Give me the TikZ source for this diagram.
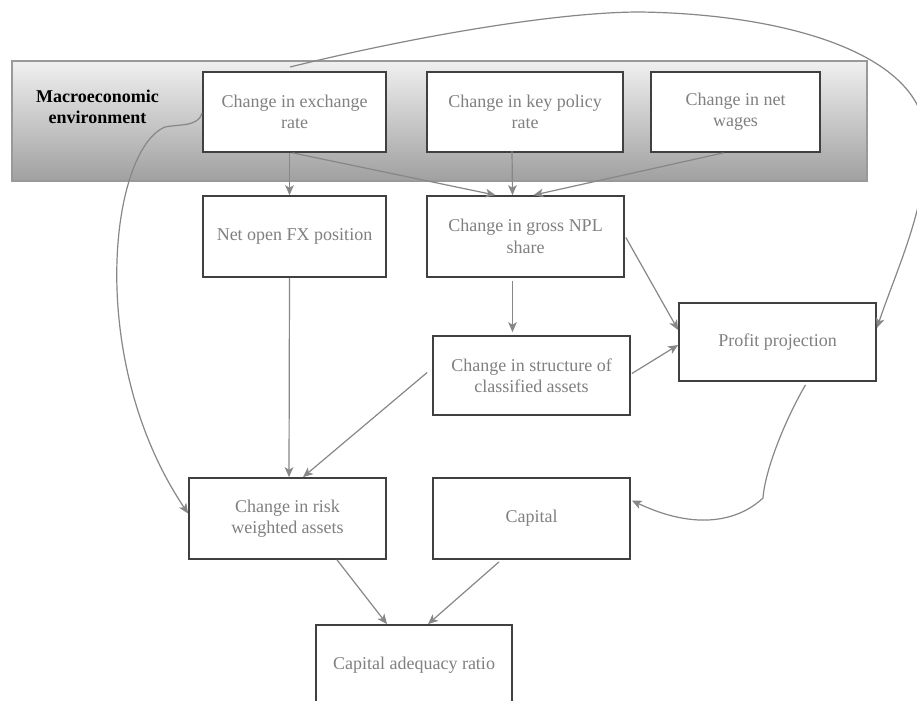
\documentclass[tikz,border=0pt]{standalone}
\usepackage{fontspec}
\setmainfont{Liberation Serif}
\usetikzlibrary{arrows.meta,calc}
\definecolor{txtgray}{RGB}{128,128,128}
\definecolor{linegray}{RGB}{135,135,135}
\definecolor{boxedge}{RGB}{64,64,64}
\definecolor{bannertop}{RGB}{240,240,240}
\definecolor{bannerbot}{RGB}{160,160,160}
\begin{document}
\begin{tikzpicture}[x=0.75pt,y=-0.75pt,
  box/.style={draw=boxedge, line width=1.3pt, fill=white, rectangle, align=center,
    text=txtgray, font=\fontsize{13.5}{16}\selectfont, inner sep=2pt},
  banner/.style={draw=gray!80, line width=0.9pt, rectangle, top color=bannertop, bottom color=bannerbot},
  conn/.style={draw=linegray, line width=0.9pt, -{Stealth[length=7.5pt,width=6.5pt,inset=2pt]}}
]
\clip (0,0) rectangle (917,700);
\fill[white] (0,0) rectangle (917,700);
% banner
\node[banner, minimum width=641.25pt, minimum height=90pt] (macro) at (439.5,121) {};
\node[align=center, font=\fontsize{13.5}{15.5}\selectfont\bfseries] (macrolab) at (97.5,107) {Macroeconomic\\environment};
% boxes
\node[box, minimum width=137.25pt, minimum height=60pt] (exch) at (294.5,112) {Change in exchange\\rate};
\node[box, minimum width=147pt, minimum height=60pt] (policy) at (525,112) {Change in key policy\\rate};
\node[box, minimum width=126.75pt, minimum height=60pt] (wages) at (735.5,112) {Change in net\\wages};
\node[box, minimum width=137.25pt, minimum height=60.75pt] (fx) at (294.5,236.5) {Net open FX position};
\node[box, minimum width=147.75pt, minimum height=60.75pt] (npl) at (525.5,236.5) {Change in gross NPL\\share};
\node[box, minimum width=147.75pt, minimum height=59.25pt] (struct) at (531.5,375.5) {Change in structure of\\classified assets};
\node[box, minimum width=147.75pt, minimum height=58.5pt] (profit) at (777.5,342) {Profit projection};
\node[box, minimum width=147.75pt, minimum height=60.75pt] (risk) at (287.5,518.5) {Change in risk\\weighted assets};
\node[box, minimum width=147.75pt, minimum height=60.75pt] (capital) at (531.5,518.5) {Capital};
\node[box, minimum width=147pt, minimum height=60pt] (car) at (414,665) {Capital adequacy ratio};
% connectors
\draw[conn] ($(exch.south)+(-5,0)$) -- ($(fx.north)+(-5,0)$);
\draw[conn] ($(exch.south)+(-2,0)$) -- ($(npl.north)+(-30,0)$);
\draw[conn] ($(policy.south)+(-13,-2)$) -- ($(npl.north)+(-13,0)$);
\draw[conn] ($(wages.south)+(-12,0)$) -- ($(npl.north)+(8,0)$);
\draw[conn] ($(npl.south)+(-13,3)$) -- ($(struct.north)+(-19,-3)$);
\draw[conn] ($(npl.east)+(1,1)$) -- ($(profit.west)+(0,-12)$);
\draw[conn] ($(struct.east)+(1,-2)$) -- ($(profit.west)+(0,3)$);
\draw[conn] ($(struct.west)+(-5,-3)$) -- ($(risk.north)+(15.5,0)$);
\draw[conn] ($(fx.south)+(-5,0)$) -- ($(risk.north)+(1.5,0)$);
\draw[conn] ($(risk.south)+(49.5,0)$) -- ($(car.north)+(-27,0)$);
\draw[conn] ($(capital.south)+(-32.5,2)$) -- ($(car.north)+(14,0)$);
% curved connectors
\coordinate (c1) at (165,127);
\draw[conn] ($(exch.west)+(0,1)$) .. controls (198,127) and (180,124) .. (c1)
  .. controls (110,150) and (85,360) .. ($(risk.west)+(0,-5)$);
\coordinate (t0) at (290,67);
\coordinate (t1) at (640,12);
\coordinate (t2) at (923,120);
\draw[conn] (t0) .. controls (420,35) and (560,12) .. (t1)
  .. controls (780,14) and (905,50) .. (t2)
  .. controls (935,190) and (900,260) .. ($(profit.east)+(0,-14)$);
\coordinate (p1) at (763,498);
\draw[conn] ($(profit.south)+(28,3)$) .. controls (785,420) and (765,470) .. (p1)
  .. controls (745,515) and (705,535) .. ($(capital.east)+(1,-18)$);
\end{tikzpicture}
\end{document}
